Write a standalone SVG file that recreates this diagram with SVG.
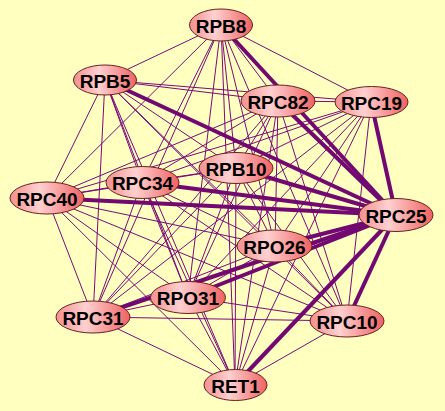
<svg xmlns="http://www.w3.org/2000/svg" width="445" height="411" viewBox="0 0 445 411">
<defs>
<linearGradient id="ng" x1="0" y1="0" x2="1" y2="0">
<stop offset="0" stop-color="#f39090"/>
<stop offset="0.4" stop-color="#ffd0d0"/>
<stop offset="1" stop-color="#f06262"/>
</linearGradient>
<style>
.e{stroke:#7a0a7a;stroke-width:1;fill:none}
.t{stroke:#720872;stroke-width:4;fill:none}
.n ellipse{fill:url(#ng);stroke:#6a2020;stroke-width:1}
.n text{font-family:"Liberation Sans",Arial,sans-serif;font-weight:bold;font-size:19px;fill:#000;text-anchor:middle;dominant-baseline:central}
</style>
</defs>
<rect width="445" height="411" fill="#ffffc0"/>
<g id="connectors">
<!-- RPB8 221,25 -->
<line class="e" x1="221" y1="25" x2="105" y2="80"/>
<line class="e" x1="221" y1="25" x2="278" y2="101"/>
<line class="e" x1="221" y1="25" x2="371" y2="102"/>
<line class="e" x1="221" y1="25" x2="236" y2="168"/>
<line class="e" x1="221" y1="25" x2="142" y2="182"/>
<line class="e" x1="221" y1="25" x2="47" y2="198"/>
<line class="e" x1="221" y1="25" x2="275" y2="246"/>
<line class="e" x1="221" y1="25" x2="188" y2="297"/>
<line class="e" x1="221" y1="25" x2="93" y2="317"/>
<line class="e" x1="221" y1="25" x2="347" y2="321"/>
<line class="e" x1="221" y1="25" x2="235" y2="385"/>
<!-- RPB5 105,80 -->
<line class="e" x1="105" y1="80" x2="278" y2="101"/>
<line class="e" x1="105" y1="80" x2="371" y2="102"/>
<line class="e" x1="105" y1="80" x2="236" y2="168"/>
<line class="e" x1="105" y1="80" x2="142" y2="182"/>
<line class="e" x1="105" y1="80" x2="47" y2="198"/>
<line class="e" x1="105" y1="80" x2="275" y2="246"/>
<line class="e" x1="105" y1="80" x2="188" y2="297"/>
<line class="e" x1="105" y1="80" x2="93" y2="317"/>
<line class="e" x1="105" y1="80" x2="347" y2="321"/>
<line class="e" x1="105" y1="80" x2="235" y2="385"/>
<!-- RPC82 278,101 -->
<line class="e" x1="278" y1="101" x2="371" y2="102"/>
<line class="e" x1="278" y1="101" x2="236" y2="168"/>
<line class="e" x1="278" y1="101" x2="142" y2="182"/>
<line class="e" x1="278" y1="101" x2="47" y2="198"/>
<line class="e" x1="278" y1="101" x2="275" y2="246"/>
<line class="e" x1="278" y1="101" x2="188" y2="297"/>
<line class="e" x1="278" y1="101" x2="93" y2="317"/>
<line class="e" x1="278" y1="101" x2="347" y2="321"/>
<line class="e" x1="278" y1="101" x2="235" y2="385"/>
<!-- RPC19 371,102 -->
<line class="e" x1="371" y1="102" x2="236" y2="168"/>
<line class="e" x1="371" y1="102" x2="142" y2="182"/>
<line class="e" x1="371" y1="102" x2="47" y2="198"/>
<line class="e" x1="371" y1="102" x2="275" y2="246"/>
<line class="e" x1="371" y1="102" x2="188" y2="297"/>
<line class="e" x1="371" y1="102" x2="93" y2="317"/>
<line class="e" x1="371" y1="102" x2="347" y2="321"/>
<line class="e" x1="371" y1="102" x2="235" y2="385"/>
<!-- RPB10 236,168 -->
<line class="e" x1="236" y1="168" x2="142" y2="182"/>
<line class="e" x1="236" y1="168" x2="47" y2="198"/>
<line class="e" x1="236" y1="168" x2="275" y2="246"/>
<line class="e" x1="236" y1="168" x2="188" y2="297"/>
<line class="e" x1="236" y1="168" x2="93" y2="317"/>
<line class="e" x1="236" y1="168" x2="347" y2="321"/>
<line class="e" x1="236" y1="168" x2="235" y2="385"/>
<!-- RPC34 142,182 -->
<line class="e" x1="142" y1="182" x2="47" y2="198"/>
<line class="e" x1="142" y1="182" x2="275" y2="246"/>
<line class="e" x1="142" y1="182" x2="188" y2="297"/>
<line class="e" x1="142" y1="182" x2="93" y2="317"/>
<line class="e" x1="142" y1="182" x2="347" y2="321"/>
<line class="e" x1="142" y1="182" x2="235" y2="385"/>
<!-- RPC40 47,198 -->
<line class="e" x1="47" y1="198" x2="275" y2="246"/>
<line class="e" x1="47" y1="198" x2="188" y2="297"/>
<line class="e" x1="47" y1="198" x2="93" y2="317"/>
<line class="e" x1="47" y1="198" x2="347" y2="321"/>
<line class="e" x1="47" y1="198" x2="235" y2="385"/>
<!-- RPO26 275,246 -->
<line class="e" x1="275" y1="246" x2="188" y2="297"/>
<line class="e" x1="275" y1="246" x2="93" y2="317"/>
<line class="e" x1="275" y1="246" x2="347" y2="321"/>
<line class="e" x1="275" y1="246" x2="235" y2="385"/>
<!-- RPO31 188,297 -->
<line class="e" x1="188" y1="297" x2="93" y2="317"/>
<line class="e" x1="188" y1="297" x2="347" y2="321"/>
<line class="e" x1="188" y1="297" x2="235" y2="385"/>
<!-- RPC31 93,317 -->
<line class="e" x1="93" y1="317" x2="347" y2="321"/>
<line class="e" x1="93" y1="317" x2="235" y2="385"/>
<!-- RPC10 347,321 -->
<line class="e" x1="347" y1="321" x2="235" y2="385"/>
<!-- RPC25 396,215 thick -->
<line class="t" x1="396" y1="215" x2="221" y2="25"/>
<line class="t" x1="396" y1="215" x2="105" y2="80"/>
<line class="t" x1="396" y1="215" x2="278" y2="101"/>
<line class="t" x1="396" y1="215" x2="371" y2="102"/>
<line class="t" x1="396" y1="215" x2="236" y2="168"/>
<line class="t" x1="396" y1="215" x2="142" y2="182"/>
<line class="t" x1="396" y1="215" x2="47" y2="198"/>
<line class="t" x1="396" y1="215" x2="275" y2="246"/>
<line class="t" x1="396" y1="215" x2="188" y2="297"/>
<line class="t" x1="396" y1="215" x2="93" y2="317"/>
<line class="t" x1="396" y1="215" x2="347" y2="321"/>
<line class="t" x1="396" y1="215" x2="235" y2="385"/>
</g>
<g id="RPB8" class="n"><ellipse cx="221" cy="25" rx="31.5" ry="16"/><text x="221" y="26">RPB8</text></g>
<g id="RPB5" class="n"><ellipse cx="105" cy="80" rx="31.5" ry="15"/><text x="105" y="81">RPB5</text></g>
<g id="RPC82" class="n"><ellipse cx="278" cy="101" rx="37" ry="16"/><text x="278" y="102">RPC82</text></g>
<g id="RPC19" class="n"><ellipse cx="371.5" cy="102" rx="36.5" ry="15.5"/><text x="371.5" y="103">RPC19</text></g>
<g id="RPB10" class="n"><ellipse cx="236" cy="168" rx="37" ry="15.5"/><text x="236" y="169">RPB10</text></g>
<g id="RPC34" class="n"><ellipse cx="142.5" cy="182.5" rx="36.5" ry="16"/><text x="142.5" y="183.5">RPC34</text></g>
<g id="RPC40" class="n"><ellipse cx="47" cy="198" rx="37" ry="16"/><text x="47" y="199">RPC40</text></g>
<g id="RPC25" class="n"><ellipse cx="396" cy="215" rx="37" ry="16.5"/><text x="396" y="216">RPC25</text></g>
<g id="RPO26" class="n"><ellipse cx="274.5" cy="246" rx="37.5" ry="16"/><text x="274.5" y="247">RPO26</text></g>
<g id="RPO31" class="n"><ellipse cx="188" cy="297.5" rx="37.5" ry="16"/><text x="188" y="298.5">RPO31</text></g>
<g id="RPC31" class="n"><ellipse cx="93" cy="317" rx="37" ry="16"/><text x="93" y="318">RPC31</text></g>
<g id="RPC10" class="n"><ellipse cx="347" cy="321" rx="37" ry="16"/><text x="347" y="322">RPC10</text></g>
<g id="RET1" class="n"><ellipse cx="235.5" cy="385" rx="31.5" ry="15.5"/><text x="235.5" y="386">RET1</text></g>
</svg>
